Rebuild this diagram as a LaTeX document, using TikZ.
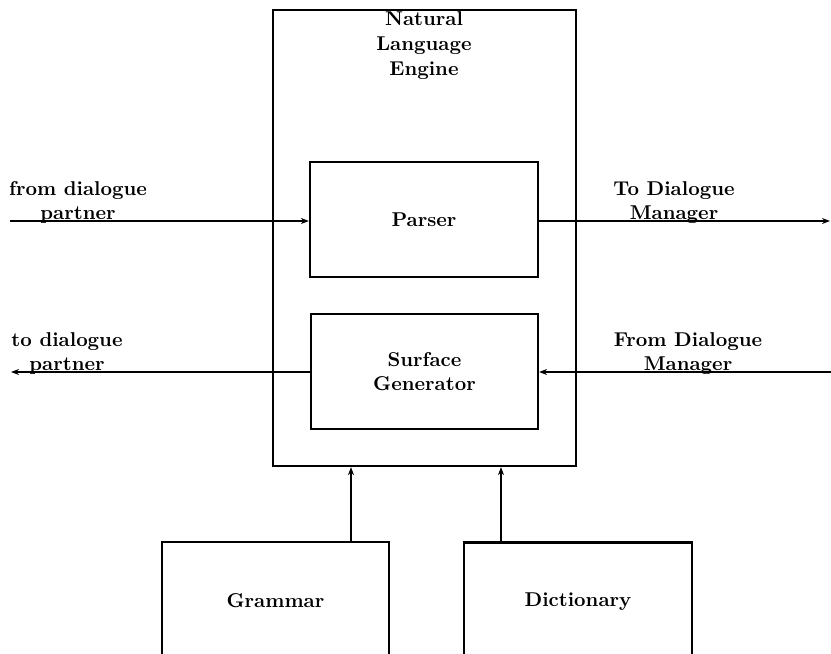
\documentclass[tikz,border=0pt]{standalone}
\usetikzlibrary{arrows.meta}

\begin{document}
\begin{tikzpicture}[
    x=0.5pt, y=-0.5pt,
    >={Stealth[length=4pt,width=3pt]},
    font=\bfseries,
    box/.style={draw, line width=1.1pt, inner sep=0pt},
    flow/.style={->, line width=0.9pt},
    tag/.style={align=center, inner sep=0pt, anchor=south, yshift=-1.5pt}
]
    \useasboundingbox (0,0) rectangle (831,654);

    % Natural Language Engine
    \node[box, minimum width=151.5pt, minimum height=228pt] (nle) at (424.5,238) {};
    \node[align=center] (nletitle) at (424,46) {Natural\\[0.5pt]Language\\[0.5pt]Engine};

    % Parser and Surface Generator
    \node[box, minimum width=114pt, minimum height=57.5pt] (parser) at (424,219.5) {Parser};
    \node[box, minimum width=113.5pt, minimum height=57.5pt, align=center] (surfgen) at (424.5,371.5) {Surface\\Generator};

    % Grammar and Dictionary
    \node[box, minimum width=113.5pt, minimum height=59pt] (grammar) at (275.5,601) {Grammar};
    \node[box, minimum width=114pt, minimum height=59pt] (dict) at (578,601.5) {Dictionary};

    % Free ends
    \coordinate (inleft) at (10,221);
    \coordinate (outleft) at (11,372);
    \coordinate (outright) at (830,221);
    \coordinate (inright) at (831,372);

    % Dialogue flow
    \draw[flow] (inleft) -- (parser.west |- inleft);
    \draw[flow] (parser.east |- outright) -- (outright);
    \draw[flow] (surfgen.west |- outleft) -- (outleft);
    \draw[flow] (inright) -- (surfgen.east |- inright);

    % Labels
    \node[tag] (fromdp) at (78,221) {from dialogue\\partner};
    \node[tag] (todp) at (67,372) {to dialogue\\partner};
    \node[tag] (todm) at (674,221) {To Dialogue\\Manager};
    \node[tag] (fromdm) at (688,372) {From Dialogue\\Manager};

    % Lexical resources
    \draw[flow] ([xshift=37.75pt]grammar.north) -- ([xshift=37.75pt]grammar.north |- nle.south);
    \draw[flow] ([xshift=-38.5pt]dict.north) -- ([xshift=-38.5pt]dict.north |- nle.south);

\end{tikzpicture}
\end{document}
